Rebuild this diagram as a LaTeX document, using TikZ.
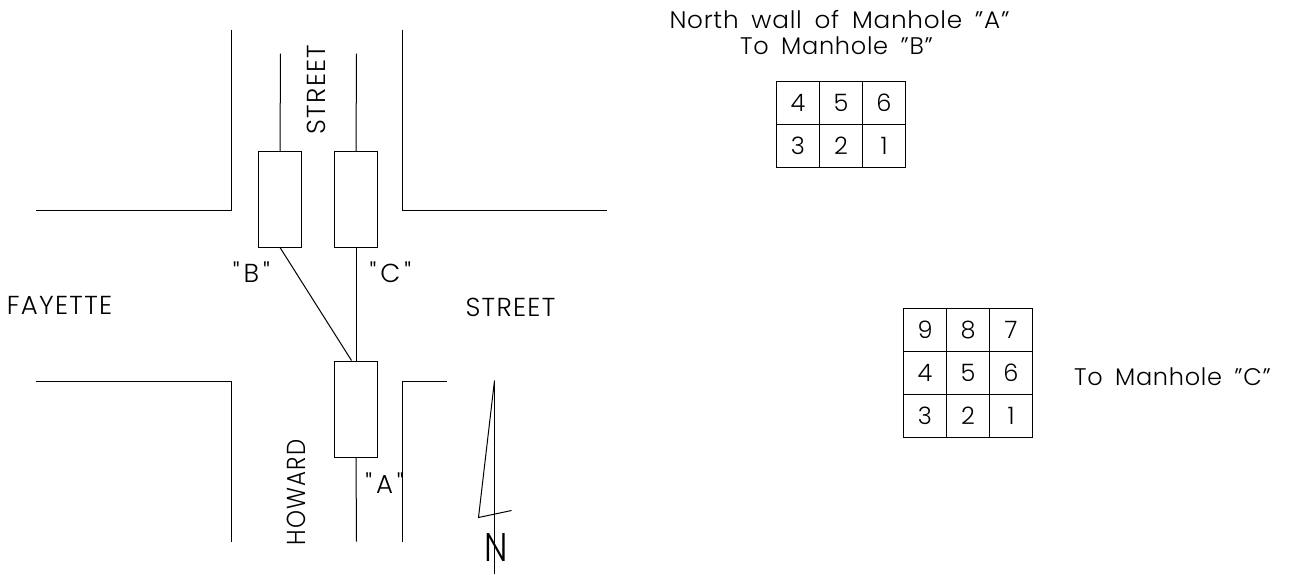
\documentclass[tikz,border=0pt]{standalone}
\usepackage{fontspec}
\setmainfont[LetterSpace=3,WordSpace=1.7]{Poppins Light}
\newfontfamily\capsfont[LetterSpace=5,WordSpace=1.6]{Poppins Light}
\newfontfamily\quotefont[LetterSpace=15]{Poppins Light}
\tikzset{
 line/.style={draw=black,line width=1pt},
 hole/.style={draw=black,line width=1pt,minimum width=43pt,minimum height=96pt,inner sep=0pt,outer sep=0pt},
 cell/.style={draw=black,line width=1pt,minimum width=43pt,minimum height=43pt,inner sep=0pt,outer sep=0pt,font=\fontsize{24}{24}\selectfont},
 label/.style={inner sep=0pt,font=\fontsize{24}{26}\selectfont,align=center},
 caps/.style={inner sep=0pt,font=\capsfont\fontsize{26}{26}\selectfont,align=center},
 quoted/.style={inner sep=0pt,font=\quotefont\fontsize{26}{26}\selectfont,align=center}
}
\begin{document}
\begin{tikzpicture}[x=1pt,y=-1pt]
\useasboundingbox (0.5,0.5) rectangle (1293.5,574.5);
\node[hole] (B) at (280.5,200) {};
\node[hole] (C) at (356.5,200) {};
\node[hole] (A) at (356.5,409.5) {};
\coordinate (bt) at (281,54);
\coordinate (ct) at (357,54);
\coordinate (ab) at (357,542);
\coordinate (an) at (352,361);
\draw[line] (bt) -- (B.north);
\draw[line] (ct) -- (C.north);
\draw[line] (B.south) -- (an);
\draw[line] (C.south) -- (A.north);
\draw[line] (A.south) -- (ab);
\draw[line] (232,30) -- (232,211) -- (36,211);
\draw[line] (403,30) -- (403,211) -- (607,211);
\draw[line] (36,382) -- (232,382) -- (232,542);
\draw[line] (403,542) -- (403,382) -- (447,382);
\draw[line] (495,381) -- (495,574);
\draw[line] (495,381) -- (479,518) -- (512,511);
\node[label,font=\fontsize{40}{40}\selectfont,xscale=.85] (N) at (496.5,548) {N};
\node[caps,rotate=90] (t1) at (317,90) {STREET};
\node[caps,rotate=90,xscale=.88] (t2) at (297,493) {HOWARD};
\node[caps] (t3) at (60,306) {FAYETTE};
\node[caps] (t4) at (511,308) {STREET};
\node[quoted] (t5) at (252,273) {"B"};
\node[quoted] (t6) at (391,273) {"C"};
\node[quoted] (t7) at (385,484) {"A"};
\node[label,xscale=1.03] (t8) at (840,20) {North wall of Manhole "A"};
\node[label] (t8b) at (837,46) {To Manhole "B"};
\node[label] (t9) at (1173,377) {To Manhole "C"};
\foreach \v/\i/\j in {4/0/0,5/1/0,6/2/0,3/0/1,2/1/1,1/2/1}
  \node[cell] (p\v) at (798.5+43*\i,103.5+43*\j) {\v};
\foreach \v/\i/\j in {9/0/0,8/1/0,7/2/0,4/0/1,5/1/1,6/2/1,3/0/2,2/1/2,1/2/2}
  \node[cell] (q\v) at (925.5+43*\i,330.5+43*\j) {\v};
\end{tikzpicture}
\end{document}
